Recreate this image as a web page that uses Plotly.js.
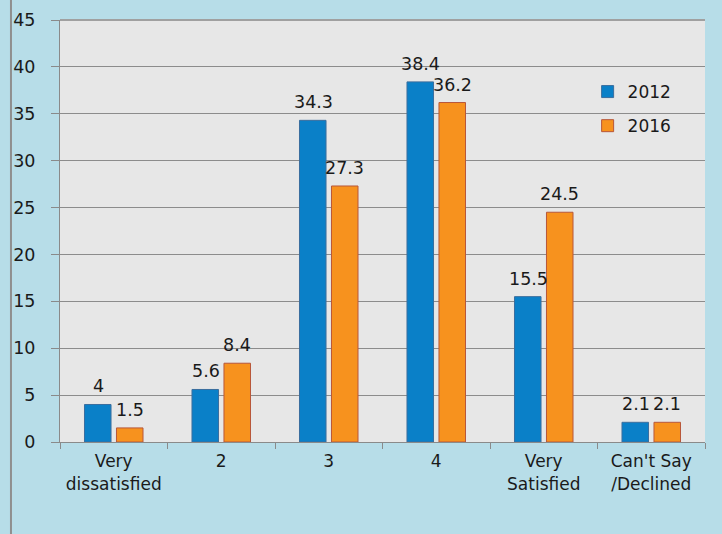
<!DOCTYPE html>
<html><head><meta charset="utf-8">
<script src="https://cdn.plot.ly/plotly-3.0.1.min.js"></script>
<style>body{margin:0;padding:0;background:#b7dde8;} #chart{width:722px;height:534px;}</style>
</head><body><div id="chart"></div>
<script>
const categories = ["Very<br>dissatisfied", "2", "3", "4", "Very<br>Satisfied", "Can't Say<br>/Declined"];
const values2012 = [4, 5.6, 34.3, 38.4, 15.5, 2.1];
const values2016 = [1.5, 8.4, 27.3, 36.2, 24.5, 2.1];
const seriesNames = ["2012", "2016"];

const font = "DejaVu Sans, Verdana, sans-serif";
const traces = [
  {type: 'bar', x: categories, name: seriesNames[0], y: values2012,
    marker: {color: '#0a80c8', line: {color: '#3a6e9e', width: 1}}, legendgroup: 'a'},
  {type: 'bar', x: categories, name: seriesNames[1], y: values2016,
    marker: {color: '#f7921e', line: {color: '#b8573a', width: 1}}, legendgroup: 'b'}
];
const annotations = [];
[[values2012, -15.75], [values2016, 15.75]].forEach(([vals, dx]) => {
  vals.forEach((v, i) => annotations.push({
    x: i, y: v, xref: 'x', yref: 'y', text: String(v), showarrow: false,
    xanchor: 'center', yanchor: 'bottom', xshift: dx, yshift: 6,
    font: {family: font, size: 17.5, color: '#1a1a1a'}
  }));
});
const layout = {
  width: 722, height: 534,
  margin: {l: 60, r: 17, t: 20, b: 92},
  paper_bgcolor: '#b7dde8', plot_bgcolor: '#e7e7e7',
  barmode: 'group', bargap: 0.405, bargroupgap: 0.17,
  font: {family: font, size: 17, color: '#1a1a1a'},
  showlegend: true,
  legend: {x: 0.818, y: 0.872, xanchor: 'left', yanchor: 'top', bgcolor: 'rgba(0,0,0,0)',
    font: {family: font, size: 17, color: '#1a1a1a'}, traceorder: 'grouped', tracegroupgap: 9,
    itemwidth: 30},
  annotations: annotations,
  xaxis: {type: 'category', showgrid: false, showline: true, linecolor: '#8a8a8a', linewidth: 1,
    ticks: 'outside', ticklen: 6, tickcolor: '#8a8a8a', tickson: 'boundaries', tickangle: 0,
    ticklabelstandoff: 4, automargin: false, tickfont: {family: font, size: 17, color: '#1a1a1a'}},
  yaxis: {range: [0, 45], dtick: 5, showgrid: true, gridcolor: '#8c8c8c', gridwidth: 1,
    showline: true, linecolor: '#8a8a8a', ticks: 'outside', ticklen: 8, tickcolor: '#8a8a8a',
    ticklabelstandoff: 12, zeroline: false, tickfont: {family: font, size: 17.5, color: '#1a1a1a'}},
  shapes: [
    {type: 'line', xref: 'paper', yref: 'paper', x0: -0.076, x1: -0.076, y0: -0.25, y1: 1.05,
     line: {color: '#8f8f8f', width: 2}},
    {type: 'line', xref: 'paper', yref: 'paper', x0: 0, x1: 1, y0: 1, y1: 1,
     line: {color: '#a0a0a0', width: 2}}
  ]
};
Plotly.newPlot('chart', traces, layout, {displayModeBar: false});
</script></body></html>
